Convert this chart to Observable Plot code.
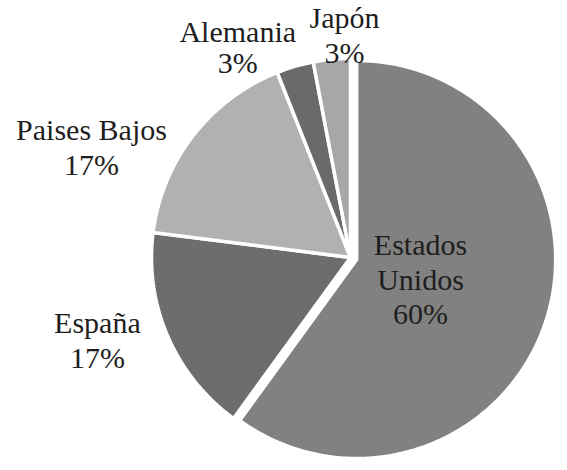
<!DOCTYPE html>
<html>
<head>
<meta charset="utf-8">
<script src="https://cdn.jsdelivr.net/npm/d3@7"></script>
<script src="https://cdn.jsdelivr.net/npm/@observablehq/plot@0.6"></script>
<style>
  html, body { margin: 0; padding: 0; background: #fff; }
  #chart { width: 567px; height: 470px; }
  #chart svg text { font-family: "Times New Roman", Times, "Liberation Serif", Tinos, "Noto Serif", "DejaVu Serif", FreeSerif, serif !important; }
</style>
</head>
<body>
<div id="chart"></div>
<script>
// ---- data ----
const countries = ["Estados Unidos", "España", "Paises Bajos", "Alemania", "Japón"];
const shares = [60, 17, 17, 3, 3];
const labelLines = [["Estados", "Unidos", "60%"], ["España", "17%"], ["Paises Bajos", "17%"], ["Alemania", "3%"], ["Japón", "3%"]];

// ---- style / layout ----
const sliceColors = ["#818181", "#6d6d6d", "#b1b1b1", "#6a6a6a", "#a7a7a7"];
const W = 567, H = 470;
const cx = 350, cy = 257, R = 199;
const explode = [6.5, 0, 0, 0, 0];
// label placement: radius (fraction of R) along the slice mid-angle, plus nudge in px
const labelRadius = [0.37, 1.32, 1.38, 1.13, 1.12];
const labelNudge = [[0, 0], [-12, -21], [-42, 59], [-50, 6], [15, 0]];
const lineGap = [34.5, 35, 35, 31, 35];

// ---- geometry from data ----
const arcs = d3.pie().sort(null).value(d => d)(shares);
const pts = [];
arcs.forEach((a, i) => {
  const mid = (a.startAngle + a.endAngle) / 2;
  const ox = cx + explode[i] * Math.sin(mid);
  const oy = cy - explode[i] * Math.cos(mid);
  pts.push({name: countries[i], x: ox, y: oy});
  const n = Math.max(4, Math.ceil((a.endAngle - a.startAngle) / (Math.PI / 180)));
  for (let k = 0; k <= n; k++) {
    const t = a.startAngle + (a.endAngle - a.startAngle) * k / n;
    pts.push({name: countries[i], x: ox + R * Math.sin(t), y: oy - R * Math.cos(t)});
  }
});

const labels = [];
arcs.forEach((a, i) => {
  const mid = (a.startAngle + a.endAngle) / 2;
  const lx = cx + labelRadius[i] * R * Math.sin(mid) + labelNudge[i][0];
  const ly = cy - labelRadius[i] * R * Math.cos(mid) + labelNudge[i][1];
  const L = labelLines[i];
  L.forEach((t, j) => {
    labels.push({text: t, x: lx, y: ly + (j - (L.length - 1) / 2) * lineGap[i]});
  });
});

const chart = Plot.plot({
  width: W,
  height: H,
  margin: 0,
  x: {domain: [0, W], range: [0, W], axis: null},
  y: {domain: [0, H], range: [0, H], axis: null},
  color: {domain: countries, range: sliceColors},
  style: {background: "#fff"},
  marks: [
    Plot.line(pts, {x: "x", y: "y", z: "name", fill: "name", stroke: "#fff", strokeWidth: 3.5, strokeLinejoin: "miter", curve: "linear-closed"}),
    Plot.text(labels, {x: "x", y: "y", text: "text", fontSize: 30, fontFamily: "Times New Roman", fill: "#1e1e1e", textAnchor: "middle", lineAnchor: "middle"})
  ]
});
document.getElementById("chart").appendChild(chart);
</script>
</body>
</html>
